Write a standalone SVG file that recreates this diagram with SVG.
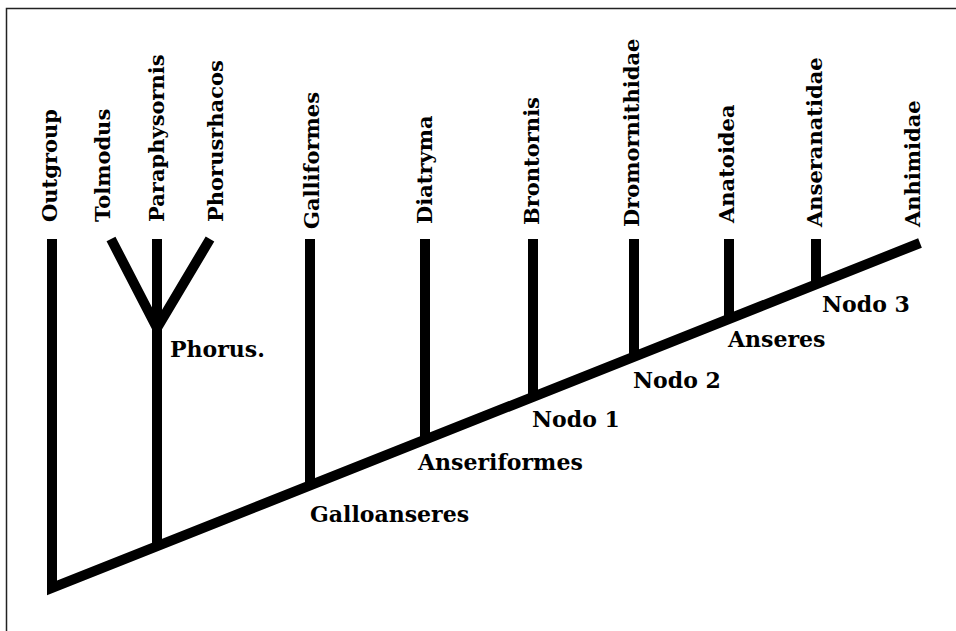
<svg xmlns="http://www.w3.org/2000/svg" width="956" height="631" viewBox="0 0 956 631">
  <style>
    .frame { stroke: #222; stroke-width: 1.5; fill: none; }
    .branch { stroke: #000; stroke-width: 10; fill: none; stroke-linecap: butt; stroke-linejoin: miter; stroke-miterlimit: 10; }
    .taxon { font-family: "DejaVu Serif", "Liberation Serif", serif; font-weight: bold; font-size: 21px; fill: #000; }
    .clade { font-family: "DejaVu Serif", "Liberation Serif", serif; font-weight: bold; font-size: 22px; fill: #000; }
  </style>
  <rect width="956" height="631" fill="#fff"/>
  <!-- frame: left and top edges only -->
  <path class="frame" d="M6.5 631 V8.5 H956"/>

  <!-- branches -->
  <g id="connectors">
    <polyline class="branch" points="52,239 52,588 920,243"/>
    <line class="branch" x1="157" y1="239" x2="157" y2="547"/>
    <polyline class="branch" points="111,239 157,328 210,239"/>
    <line class="branch" x1="310" y1="239" x2="310" y2="486"/>
    <line class="branch" x1="425" y1="239" x2="425" y2="440"/>
    <line class="branch" x1="533" y1="239" x2="533" y2="397"/>
    <line class="branch" x1="634" y1="239" x2="634" y2="357"/>
    <line class="branch" x1="729" y1="239" x2="729" y2="319"/>
    <line class="branch" x1="816" y1="239" x2="816" y2="285"/>
  </g>

  <!-- terminal taxa -->
  <g id="outgroup"><text class="taxon" transform="translate(57,222) rotate(-90)">Outgroup</text></g>
  <g id="tolmodus"><text class="taxon" transform="translate(110,222) rotate(-90)">Tolmodus</text></g>
  <g id="paraphysornis"><text class="taxon" transform="translate(164,222) rotate(-90)">Paraphysornis</text></g>
  <g id="phorusrhacos"><text class="taxon" transform="translate(223,222) rotate(-90)">Phorusrhacos</text></g>
  <g id="galliformes"><text class="taxon" transform="translate(319,229) rotate(-90)">Galliformes</text></g>
  <g id="diatryma"><text class="taxon" transform="translate(432,224) rotate(-90)">Diatryma</text></g>
  <g id="brontornis"><text class="taxon" transform="translate(539,225) rotate(-90)">Brontornis</text></g>
  <g id="dromornithidae"><text class="taxon" transform="translate(639,227) rotate(-90)">Dromornithidae</text></g>
  <g id="anatoidea"><text class="taxon" transform="translate(734,223) rotate(-90)">Anatoidea</text></g>
  <g id="anseranatidae"><text class="taxon" transform="translate(822,227) rotate(-90)">Anseranatidae</text></g>
  <g id="anhimidae"><text class="taxon" transform="translate(920,227) rotate(-90)">Anhimidae</text></g>

  <!-- clade labels -->
  <g id="phorus"><text class="clade" x="170" y="357">Phorus.</text></g>
  <g id="galloanseres"><text class="clade" x="310" y="522">Galloanseres</text></g>
  <g id="anseriformes"><text class="clade" x="418" y="470">Anseriformes</text></g>
  <g id="nodo1"><text class="clade" x="532" y="427">Nodo 1</text></g>
  <g id="nodo2"><text class="clade" x="633" y="388">Nodo 2</text></g>
  <g id="anseres"><text class="clade" x="728" y="347">Anseres</text></g>
  <g id="nodo3"><text class="clade" x="822" y="312">Nodo 3</text></g>
</svg>
